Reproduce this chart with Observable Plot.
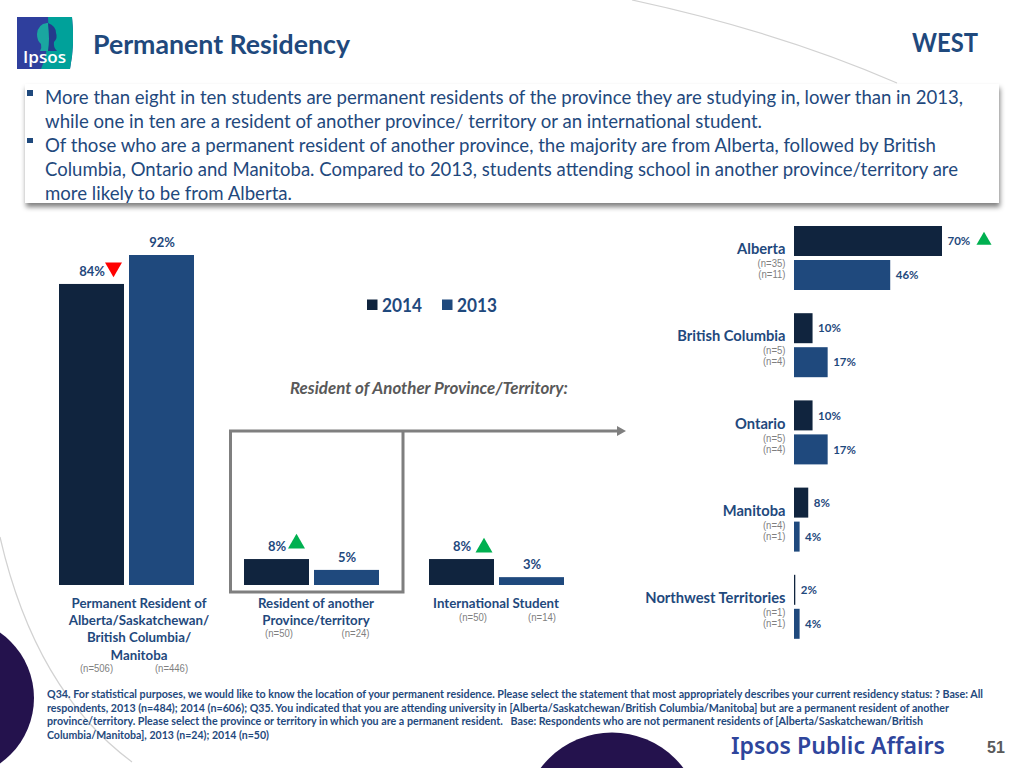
<!DOCTYPE html>
<html><head><meta charset="utf-8">
<script src="https://cdn.jsdelivr.net/npm/d3@7"></script>
<script src="https://cdn.jsdelivr.net/npm/@observablehq/plot@0.6"></script>
<style>
html,body{margin:0;padding:0;background:#fff;overflow:hidden}
#page{position:absolute;left:0;top:0;width:1024px;height:768px;overflow:hidden;background:#fff;font-family:Lato,sans-serif}
#page>svg{position:absolute;left:0;top:0;overflow:visible}
.t{position:absolute;white-space:pre;transform-origin:0 50%;line-height:1;color:#1f497d}
.box{position:absolute;left:25px;top:84px;width:974px;height:119px;background:#fff;box-shadow:1px 4px 5px #808080}
.bullet{position:absolute;left:27px;width:5.5px;height:5.5px;background:#1f497d}
</style></head><body><div id="page"></div>
<script>
const years = ["2014", "2013"];
const statusCategories = ["Permanent Resident", "Resident of another", "International Student"];
const statusLabels = ["Permanent Resident of\nAlberta/Saskatchewan/\nBritish Columbia/\nManitoba", "Resident of another\nProvince/territory", "International Student"];
const statusValues2014 = [84, 8, 8];
const statusValues2013 = [92, 5, 3];
const statusN2014 = [506, 50, 50];
const statusN2013 = [446, 24, 14];
const regions = ["Alberta", "British Columbia", "Ontario", "Manitoba", "Northwest Territories"];
const regionValues2014 = [70, 10, 10, 8, 2];
const regionValues2013 = [46, 17, 17, 4, 4];
const regionN2014 = [35, 5, 5, 4, 1];
const regionN2013 = [11, 4, 4, 1, 1];
const bodyLines = [
 ["More than eight in ten students are permanent residents of the province they are studying in, lower than in 2013,", 918, 96.5],
 ["while one in ten are a resident of another province/ territory or an international student.", 717, 120.5],
 ["Of those who are a permanent resident of another province, the majority are from Alberta, followed by British", 891, 144.5],
 ["Columbia, Ontario and Manitoba. Compared to 2013, students attending school in another province/territory are", 913, 168.5],
 ["more likely to be from Alberta.", 247, 192.5]
];
const footLines = [
 ["Q34. For statistical purposes, we would like to know the location of your permanent residence. Please select the statement that most appropriately describes your current residency status: ? Base: All", 936, 693],
 ["respondents, 2013 (n=484); 2014 (n=606); Q35. You indicated that you are attending university in [Alberta/Saskatchewan/British Columbia/Manitoba] but are a permanent resident of another", 902, 707],
 ["province/territory. Please select the province or territory in which you are a permanent resident.   Base: Respondents who are not permanent residents of [Alberta/Saskatchewan/British", 876, 720],
 ["Columbia/Manitoba], 2013 (n=24); 2014 (n=50)", 222, 734]
];

const navy = "#10243e", blue = "#1f497d", gray = "#7f7f7f";
const page = document.getElementById("page");

// Slide furniture behind the charts
page.insertAdjacentHTML("beforeend", `
<svg width="1024" height="768">
  <circle cx="-46" cy="698" r="80" fill="#24124d"/>
  <circle cx="612" cy="822" r="89.5" fill="#24124d"/>
  <path d="M0 537 Q35 690 132 762" fill="none" stroke="#d2d2d2" stroke-width="1.2"/>
  <path d="M632 0 Q780 32 897 83" fill="none" stroke="#d2d2d2" stroke-width="1.2"/>
  <g stroke="${gray}" stroke-width="3" fill="none">
    <path d="M230.5 431V592H403V431"/>
    <path d="M229 431H620"/>
  </g>
  <path d="M617 426L626 431L617 436Z" fill="${gray}"/>
  <rect x="367" y="299.5" width="10.5" height="10.5" fill="${navy}"/>
  <rect x="442" y="299.5" width="10.5" height="10.5" fill="${blue}"/>
  <g>
    <path d="M17 17H72Q75 44 70 69H17Z" fill="#2f3f9d"/>
    <path d="M48 17H72Q75 44 70 69H41Q50 48 48 17Z" fill="#00a19a"/>
    <path d="M47 23Q38 24 37 34Q37 41 41 44Q42 48 40 51H48Q50 40 48 23Z" fill="#1aa6a0"/>
    <path d="M48 23Q56 26 56 33Q58 38 54 42Q53 47 57 51H48Q50 40 48 23Z" fill="#243a8c"/>
  </g>
</svg>
<div class="box"></div>
<div class="bullet" style="top:90px"></div>
<div class="bullet" style="top:137.5px"></div>`);

function place(text, x, y, opts = {}) {
  const el = document.createElement("div");
  el.className = "t";
  el.textContent = text;
  el.style.left = x + "px";
  el.style.fontFamily = opts.family || "Lato, sans-serif";
  el.style.fontSize = (opts.size || 14) + "px";
  el.style.fontWeight = opts.weight || 400;
  if (opts.italic) el.style.fontStyle = "italic";
  if (opts.color) el.style.color = opts.color;
  page.appendChild(el);
  const r = el.getBoundingClientRect();
  el.style.top = (y - r.height / 2) + "px";
  if (opts.width) el.style.transform = `scaleX(${opts.width / r.width})`;
  return el;
}

place("Permanent Residency", 93, 43, {size: 27, weight: 700, width: 257});
place("WEST", 912, 41, {size: 27, weight: 700, width: 66});
bodyLines.forEach(([s, w, y]) => place(s, 45, y, {size: 19.5, width: w}));
footLines.forEach(([s, w, y]) => place(s, 47, y, {size: 11, weight: 700, width: w}));
place("Resident of Another Province/Territory:", 290, 387, {size: 17, weight: 700, italic: true, color: "#595959", width: 278});
place("2014", 382, 304, {size: 19, weight: 700, width: 40});
place("2013", 457, 304, {size: 19, weight: 700, width: 40});
place("Ipsos", 23, 56, {size: 17, weight: 600, color: "#fff", width: 43, family: "'Open Sans', sans-serif"});
place("Ipsos Public Affairs", 731, 745, {size: 24, weight: 600, color: "#2e459c", width: 214, family: "'Noto Sans', sans-serif"});
place("51", 987, 748, {size: 16, weight: 700, color: "#595959", family: "'Liberation Sans', sans-serif"});

const labelStyle = {fontFamily: "Lato, sans-serif", fontWeight: 700, fill: blue};
const nStyle = {fontFamily: "'Liberation Sans', sans-serif", fontSize: 11.5, fill: gray};

// Left chart: residency status
const statusBase = 0.83;
const statusData = statusCategories.flatMap((c, i) => [
  {cat: c, year: "2014", value: statusValues2014[i], n: statusN2014[i]},
  {cat: c, year: "2013", value: statusValues2013[i], n: statusN2013[i]}
]);
const statusOffsets = [
  {dx: 12, nDx: [4.5, 9.5], nDy: 86},
  {dx: 4, nDx: [2, 8.5], nDy: 51},
  {dx: -1, nDx: [11, 10], nDy: 35}
];
const statusFlags = [
  {cat: statusCategories[0], year: "2014", value: 84, down: true, dx: 21.5, dy: -17},
  {cat: statusCategories[1], year: "2014", value: 8, dx: 19.5, dy: -16},
  {cat: statusCategories[2], year: "2014", value: 8, dx: 22, dy: -12}
];
const left = Plot.plot({
  width: 640, height: 700,
  marginLeft: 59, marginRight: 76, marginTop: 255, marginBottom: 115,
  style: {background: "transparent", overflow: "visible"},
  fx: {domain: statusCategories, paddingInner: 50 / 185, paddingOuter: 0, round: false, axis: null},
  x: {domain: years, paddingInner: 5 / 70, paddingOuter: 0, round: false, axis: null},
  y: {domain: [statusBase, 92], axis: null},
  color: {domain: years, range: [navy, blue]},
  marks: [
    Plot.barY(statusData, {fx: "cat", x: "year", y1: () => statusBase, y2: "value", fill: "year"}),
    Plot.text(statusData, {fx: "cat", x: "year", y: "value", text: d => d.value + "%", dy: -13, fontSize: 13, ...labelStyle, letterSpacing: "-0.5px"}),
    ...statusFlags.map(f => Plot.dot([f], {fx: "cat", x: "year", y: "value", symbol: "triangle", r: 6.3, rotate: f.down ? 180 : 0, fill: f.down ? "#ff0000" : "#00b050", dx: f.dx, dy: f.dy})),
    ...statusCategories.map((c, i) => Plot.text([c], {fx: d => d, text: () => statusLabels[i], frameAnchor: "bottom", lineAnchor: "top", lineHeight: 1.3, dy: 10, dx: statusOffsets[i].dx, fontSize: 13.3, ...labelStyle})),
    ...statusData.map(d => {
      const o = statusOffsets[statusCategories.indexOf(d.cat)];
      return Plot.text([d], {fx: "cat", x: "year", text: e => `(n=${e.n})`, frameAnchor: "bottom", dx: o.nDx[years.indexOf(d.year)], dy: o.nDy, ...nStyle});
    })
  ]
});
page.appendChild(left);

// Right chart: province of residence
const regionBase = 1.4;
const regionData = regions.flatMap((r, i) => [
  {region: r, year: "2014", value: regionValues2014[i]},
  {region: r, year: "2013", value: regionValues2013[i]}
]);
const right = Plot.plot({
  width: 1024, height: 768,
  marginLeft: 794, marginRight: 82, marginTop: 226, marginBottom: 129.2,
  style: {background: "transparent", overflow: "visible"},
  fy: {domain: regions, paddingInner: 23.2 / 87.2, paddingOuter: 0, round: false, axis: null},
  y: {domain: years, paddingInner: 4 / 34, paddingOuter: 0, round: false, axis: null},
  x: {domain: [regionBase, 70], axis: null},
  color: {domain: years, range: [navy, blue]},
  marks: [
    Plot.barX(regionData, {fy: "region", y: "year", x1: () => regionBase, x2: "value", fill: "year"}),
    Plot.text(regionData, {fy: "region", y: "year", x: "value", text: d => d.value + "%", dx: 5, textAnchor: "start", fontSize: 11.5, ...labelStyle}),
    Plot.dot([{region: "Alberta", year: "2014", value: 70}], {fy: "region", y: "year", x: "value", symbol: "triangle", r: 5.6, fill: "#00b050", dx: 41.5, dy: -1}),
    Plot.text(regions, {fy: d => d, text: d => d, frameAnchor: "left", textAnchor: "end", dx: -9, dy: -9, fontSize: 14.7, ...labelStyle}),
    Plot.text(regions, {fy: d => d, text: (d, i) => `(n=${regionN2014[i]})`, frameAnchor: "left", textAnchor: "end", dx: -9, dy: 5, ...nStyle}),
    Plot.text(regions, {fy: d => d, text: (d, i) => `(n=${regionN2013[i]})`, frameAnchor: "left", textAnchor: "end", dx: -9, dy: 16, ...nStyle})
  ]
});
page.appendChild(right);

// The sample-size notes are set in a condensed face in the reference
page.querySelectorAll("svg text").forEach(t => {
  if (/^\(n=/.test(t.textContent)) {
    t.setAttribute("textLength", (t.getComputedTextLength() * 0.83).toFixed(1));
    t.setAttribute("lengthAdjust", "spacingAndGlyphs");
  }
});
</script></body></html>
